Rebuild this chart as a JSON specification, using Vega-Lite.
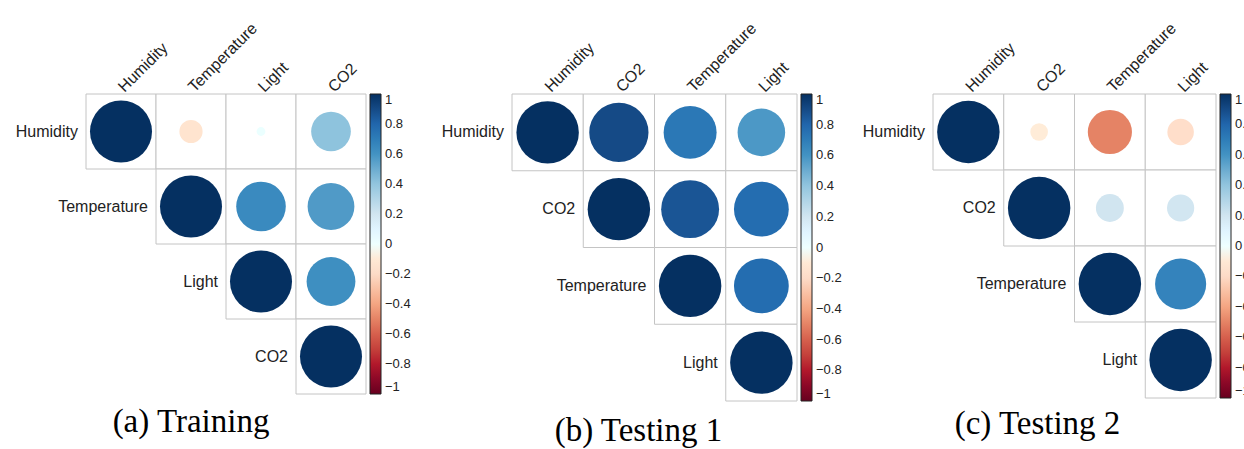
{
  "$schema": "https://vega.github.io/schema/vega-lite/v6.json",
  "background": "white",
  "padding": {"left": 15, "top": 19, "right": 0, "bottom": 0},
  "config": {"view": {"stroke": null}, "font": "Liberation Sans", "concat": {"spacing": 30}},
  "resolve": {"scale": {"color": "independent", "size": "independent", "x": "independent", "y": "independent"}},
  "datasets": {
    "a": [
      {"row": "Humidity", "col": "Humidity", "r": 1},
      {"row": "Humidity", "col": "Temperature", "r": -0.14},
      {"row": "Humidity", "col": "Light", "r": 0.02},
      {"row": "Humidity", "col": "CO2", "r": 0.41},
      {"row": "Temperature", "col": "Temperature", "r": 1},
      {"row": "Temperature", "col": "Light", "r": 0.64},
      {"row": "Temperature", "col": "CO2", "r": 0.57},
      {"row": "Light", "col": "Light", "r": 1},
      {"row": "Light", "col": "CO2", "r": 0.62},
      {"row": "CO2", "col": "CO2", "r": 1}
    ],
    "b": [
      {"row": "Humidity", "col": "Humidity", "r": 1},
      {"row": "Humidity", "col": "CO2", "r": 0.9},
      {"row": "Humidity", "col": "Temperature", "r": 0.72},
      {"row": "Humidity", "col": "Light", "r": 0.58},
      {"row": "CO2", "col": "CO2", "r": 1},
      {"row": "CO2", "col": "Temperature", "r": 0.86},
      {"row": "CO2", "col": "Light", "r": 0.77},
      {"row": "Temperature", "col": "Temperature", "r": 1},
      {"row": "Temperature", "col": "Light", "r": 0.77},
      {"row": "Light", "col": "Light", "r": 1}
    ],
    "c": [
      {"row": "Humidity", "col": "Humidity", "r": 1},
      {"row": "Humidity", "col": "CO2", "r": -0.08},
      {"row": "Humidity", "col": "Temperature", "r": -0.5},
      {"row": "Humidity", "col": "Light", "r": -0.18},
      {"row": "CO2", "col": "CO2", "r": 1},
      {"row": "CO2", "col": "Temperature", "r": 0.2},
      {"row": "CO2", "col": "Light", "r": 0.19},
      {"row": "Temperature", "col": "Temperature", "r": 1},
      {"row": "Temperature", "col": "Light", "r": 0.67},
      {"row": "Light", "col": "Light", "r": 1}
    ]
  },
  "hconcat": [
    {
      "width": 280, "height": 300,
      "title": {"text": "(a) Training", "orient": "bottom", "font": "Liberation Serif", "fontSize": 33, "fontWeight": "normal", "color": "#000", "anchor": "middle", "dx": -35, "offset": 11, "baseline": "top"},
      "data": {"name": "a"},
      "encoding": {
        "x": {"field": "col", "type": "nominal", "scale": {"domain": ["Humidity", "Temperature", "Light", "CO2"], "paddingInner": 0, "paddingOuter": 0}, "axis": {"orient": "top", "title": null, "labelAngle": -45, "labelAlign": "left", "labelBaseline": "middle", "domain": false, "ticks": false, "labelPadding": 5, "labelFontSize": 16, "labelColor": "#222"}},
        "y": {"field": "row", "type": "nominal", "scale": {"domain": ["Humidity", "Temperature", "Light", "CO2"], "paddingInner": 0, "paddingOuter": 0}, "axis": null}
      },
      "layer": [
        {"mark": {"type": "rect", "fill": "white", "stroke": "#c4c4c4", "strokeWidth": 1}},
        {"mark": {"type": "point", "shape": "circle", "filled": true, "opacity": 1, "strokeWidth": 0},
         "encoding": {
           "color": {"field": "r", "type": "quantitative", "scale": {"domain": [-1, -0.8, -0.6, -0.4, -0.2, 0, 0.2, 0.4, 0.6, 0.8, 1], "range": ["#67001F", "#B2182B", "#D6604D", "#F4A582", "#FDDBC7", "#FFFFFF", "#D1E5F0", "#92C5DE", "#4393C3", "#2166AC", "#053061"], "nice": false},
             "legend": {"orient": "right", "title": null, "direction": "vertical", "gradientLength": 300, "gradientThickness": 11, "offset": 4, "padding": 0, "values": [1, 0.8, 0.6, 0.4, 0.2, 0, -0.2, -0.4, -0.6, -0.8, -1], "format": "~g", "labelFontSize": 13, "labelColor": "#222", "labelOffset": 4, "gradientStrokeColor": "#222", "gradientStrokeWidth": 1, "labelOverlap": false}},
           "size": {"field": "r", "type": "quantitative", "scale": {"domain": [-1, 0, 1], "range": [3844, 0, 3844], "nice": false, "zero": false}, "legend": null}
         }},
        {"transform": [{"filter": "datum.row === datum.col"}],
         "mark": {"type": "text", "align": "right", "baseline": "middle", "dx": -8, "fontSize": 16, "color": "#222"},
         "encoding": {"x": {"field": "col", "type": "nominal", "bandPosition": 0}, "text": {"field": "row"}}}
      ]
    },
    {
      "spacing": 20,
      "resolve": {"scale": {"color": "independent", "size": "independent", "x": "independent", "y": "independent"}},
      "hconcat": [
        {
          "width": 285, "height": 307,
          "title": {"text": "(b) Testing 1", "orient": "bottom", "font": "Liberation Serif", "fontSize": 33, "fontWeight": "normal", "color": "#000", "anchor": "middle", "dx": -16, "offset": 13, "baseline": "top"},
          "data": {"name": "b"},
          "encoding": {
            "x": {"field": "col", "type": "nominal", "scale": {"domain": ["Humidity", "CO2", "Temperature", "Light"], "paddingInner": 0, "paddingOuter": 0}, "axis": {"orient": "top", "title": null, "labelAngle": -45, "labelAlign": "left", "labelBaseline": "middle", "domain": false, "ticks": false, "labelPadding": 5, "labelFontSize": 16, "labelColor": "#222"}},
            "y": {"field": "row", "type": "nominal", "scale": {"domain": ["Humidity", "CO2", "Temperature", "Light"], "paddingInner": 0, "paddingOuter": 0}, "axis": null}
          },
          "layer": [
            {"mark": {"type": "rect", "fill": "white", "stroke": "#c4c4c4", "strokeWidth": 1}},
            {"mark": {"type": "point", "shape": "circle", "filled": true, "opacity": 1, "strokeWidth": 0},
             "encoding": {
               "color": {"field": "r", "type": "quantitative", "scale": {"domain": [-1, -0.8, -0.6, -0.4, -0.2, 0, 0.2, 0.4, 0.6, 0.8, 1], "range": ["#67001F", "#B2182B", "#D6604D", "#F4A582", "#FDDBC7", "#FFFFFF", "#D1E5F0", "#92C5DE", "#4393C3", "#2166AC", "#053061"], "nice": false},
                 "legend": {"orient": "right", "title": null, "direction": "vertical", "gradientLength": 307, "gradientThickness": 11, "offset": 4, "padding": 0, "values": [1, 0.8, 0.6, 0.4, 0.2, 0, -0.2, -0.4, -0.6, -0.8, -1], "format": "~g", "labelFontSize": 13, "labelColor": "#222", "labelOffset": 4, "gradientStrokeColor": "#222", "gradientStrokeWidth": 1, "labelOverlap": false}},
               "size": {"field": "r", "type": "quantitative", "scale": {"domain": [-1, 0, 1], "range": [3900, 0, 3900], "nice": false, "zero": false}, "legend": null}
             }},
            {"transform": [{"filter": "datum.row === datum.col"}],
             "mark": {"type": "text", "align": "right", "baseline": "middle", "dx": -8, "fontSize": 16, "color": "#222"},
             "encoding": {"x": {"field": "col", "type": "nominal", "bandPosition": 0}, "text": {"field": "row"}}}
          ]
        },
        {
          "width": 283, "height": 304,
          "title": {"text": "(c) Testing 2", "orient": "bottom", "font": "Liberation Serif", "fontSize": 33, "fontWeight": "normal", "color": "#000", "anchor": "middle", "dx": -37, "offset": 9, "baseline": "top"},
          "data": {"name": "c"},
          "encoding": {
            "x": {"field": "col", "type": "nominal", "scale": {"domain": ["Humidity", "CO2", "Temperature", "Light"], "paddingInner": 0, "paddingOuter": 0}, "axis": {"orient": "top", "title": null, "labelAngle": -45, "labelAlign": "left", "labelBaseline": "middle", "domain": false, "ticks": false, "labelPadding": 5, "labelFontSize": 16, "labelColor": "#222"}},
            "y": {"field": "row", "type": "nominal", "scale": {"domain": ["Humidity", "CO2", "Temperature", "Light"], "paddingInner": 0, "paddingOuter": 0}, "axis": null}
          },
          "layer": [
            {"mark": {"type": "rect", "fill": "white", "stroke": "#c4c4c4", "strokeWidth": 1}},
            {"mark": {"type": "point", "shape": "circle", "filled": true, "opacity": 1, "strokeWidth": 0},
             "encoding": {
               "color": {"field": "r", "type": "quantitative", "scale": {"domain": [-1, -0.8, -0.6, -0.4, -0.2, 0, 0.2, 0.4, 0.6, 0.8, 1], "range": ["#67001F", "#B2182B", "#D6604D", "#F4A582", "#FDDBC7", "#FFFFFF", "#D1E5F0", "#92C5DE", "#4393C3", "#2166AC", "#053061"], "nice": false},
                 "legend": {"orient": "right", "title": null, "direction": "vertical", "gradientLength": 304, "gradientThickness": 11, "offset": 4, "padding": 0, "values": [1, 0.8, 0.6, 0.4, 0.2, 0, -0.2, -0.4, -0.6, -0.8, -1], "format": "~g", "labelFontSize": 13, "labelColor": "#222", "labelOffset": 4, "gradientStrokeColor": "#222", "gradientStrokeWidth": 1, "labelOverlap": false}},
               "size": {"field": "r", "type": "quantitative", "scale": {"domain": [-1, 0, 1], "range": [3900, 0, 3900], "nice": false, "zero": false}, "legend": null}
             }},
            {"transform": [{"filter": "datum.row === datum.col"}],
             "mark": {"type": "text", "align": "right", "baseline": "middle", "dx": -8, "fontSize": 16, "color": "#222"},
             "encoding": {"x": {"field": "col", "type": "nominal", "bandPosition": 0}, "text": {"field": "row"}}}
          ]
        }
      ]
    }
  ]
}
